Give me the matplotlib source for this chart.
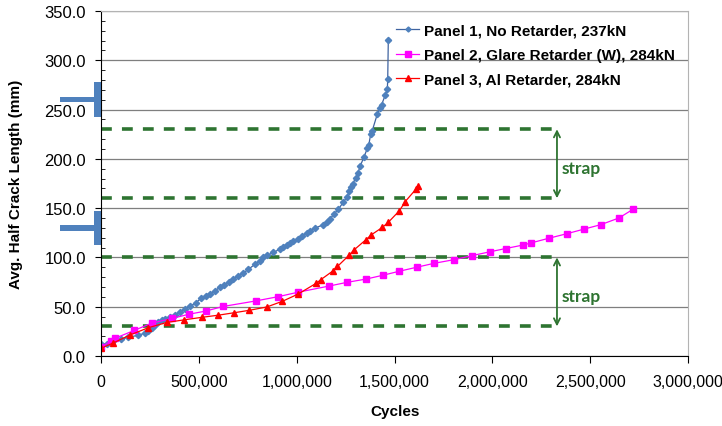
import numpy as np
import matplotlib.pyplot as plt
from matplotlib.ticker import FuncFormatter, MultipleLocator
from matplotlib.patches import Rectangle

plt.rcParams['font.family'] = ['Liberation Sans', 'DejaVu Sans']

# Panel 1, No Retarder, 237kN  (cycles in thousands, half crack length in mm)
p1_kcycles = [0, 30, 63, 100, 140, 190, 225, 242, 260, 275, 293, 310, 327, 352,
              378, 404, 429, 455, 485, 511, 535, 557, 583, 608, 630, 656, 676,
              700, 727, 753, 787, 813, 829, 847, 881, 915, 932, 949, 966, 983,
              1008, 1026, 1051, 1070, 1092, 1133, 1153, 1170, 1191, 1213, 1238,
              1256, 1269, 1276, 1286, 1302, 1313, 1325, 1344, 1361, 1368, 1378,
              1385, 1412, 1426, 1434, 1453, 1463, 1465, 1468]
p1_mm = [12, 12.5, 15.5, 17, 19, 21, 23.3, 25.7, 28.5, 31, 34, 36, 37.5, 39.2,
         41.6, 45, 47.7, 50.4, 54, 58.5, 61, 63, 66.3, 69.7, 72, 74.7, 78,
         81, 84, 88, 93, 96.7, 100, 102, 105, 108.5, 111, 112.5, 115, 116.5,
         119, 122, 125, 127, 129.5, 133, 136, 139, 144, 149, 156,
         161, 167.5, 171, 174.5, 181, 186, 193, 202, 210.7, 214, 225,
         228, 245.5, 251.6, 255, 265, 271, 281, 321]

# Panel 2, Glare Retarder (W), 284kN
p2_kcycles = [0, 50, 72, 170, 259, 363, 448, 536, 623, 790, 906, 1005, 1167,
              1257, 1354, 1443, 1525, 1613, 1702, 1804, 1896, 1990, 2068, 2158,
              2196, 2288, 2380, 2470, 2554, 2647, 2720]
p2_mm = [9, 15, 18, 26, 33.3, 38.1, 42.3, 45.6, 50.2, 55.8, 60.2, 64.6, 71,
         74.7, 78, 82, 86, 90, 94, 97.7, 101.8, 105.8, 109, 112.6,
         114.6, 119.4, 124, 128.8, 133.2, 140, 149]

# Panel 3, Al Retarder, 284kN
p3_kcycles = [0, 60, 148, 242, 336, 426, 515, 600, 678, 757, 847, 927, 1008,
              1099, 1123, 1183, 1208, 1269, 1294, 1354, 1382, 1438, 1468, 1525,
              1554, 1610, 1622]
p3_mm = [7.8, 13, 21.3, 28.7, 34, 36.7, 39.2, 41.4, 43.8, 46.3, 49.7, 55.5, 62.9,
         73.7, 77.4, 86, 90.8, 102.5, 107.8, 118, 123, 130.5, 135.6, 147.4,
         156.5, 169.4, 172.8]

# strap edges (mm) and stringer positions (mm)
strap_bounds = [(30, 100), (160, 230)]
strap_end = 2330000
stringers = [260, 130]

green = '#2e7431'
steel = '#4f81bd'

fig = plt.figure(figsize=(7.22, 4.27), dpi=100)
ax = fig.add_axes([0.140, 0.164, 0.813, 0.808])

ax.plot(np.array(p1_kcycles) * 1000, p1_mm, '-', color='#3f63a0', lw=0.9,
        marker='D', ms=3.2, mfc=steel, mec=steel, label='Panel 1, No Retarder, 237kN')
ax.plot(np.array(p2_kcycles) * 1000, p2_mm, '-', color='#ff00ff', lw=0.9,
        marker='s', ms=4.6, mfc='#ff00ff', mec='#ff00ff',
        label='Panel 2, Glare Retarder (W), 284kN')
ax.plot(np.array(p3_kcycles) * 1000, p3_mm, '-', color='#ff0000', lw=0.9,
        marker='^', ms=4.6, mfc='#ff0000', mec='#ff0000',
        label='Panel 3, Al Retarder, 284kN')

for lo, hi in strap_bounds:
    for yv in (lo, hi):
        ax.plot([0, strap_end], [yv, yv], color=green, lw=2.6,
                linestyle=(0, (3, 2.8)), zorder=1)
    ax.annotate('', xy=(strap_end, hi), xytext=(strap_end, lo),
                arrowprops=dict(arrowstyle='<->', color=green, lw=1.3,
                                shrinkA=0, shrinkB=0, mutation_scale=11))
    ax.text(strap_end + 22000, (lo + hi) / 2 - 4, 'strap', color=green,
            fontsize=12.5, fontweight='bold', family=['Lato', 'DejaVu Sans'],
            ha='left', va='center')

# stringer symbols left of the axis
for ys in stringers:
    ax.add_patch(Rectangle((-36000, ys - 17.5), 36000, 35, color=steel,
                           clip_on=False, lw=0))
    ax.add_patch(Rectangle((-210000, ys - 2.8), 176000, 5.6, color=steel,
                           clip_on=False, lw=0))

ax.set_xlim(0, 3000000)
ax.set_ylim(0, 350)
ax.xaxis.set_major_locator(MultipleLocator(500000))
ax.yaxis.set_major_locator(MultipleLocator(50))
ax.yaxis.set_minor_locator(MultipleLocator(10))
ax.xaxis.set_major_formatter(FuncFormatter(lambda v, p: '{:,.0f}'.format(v)))
ax.yaxis.set_major_formatter(FuncFormatter(lambda v, p: '{:.1f}'.format(v)))

ax.grid(axis='y', which='major', color='#7f7f7f', lw=0.9, zorder=0)
ax.set_axisbelow(True)
ax.tick_params(axis='y', which='major', direction='out', length=4, labelsize=12, pad=7)
ax.tick_params(axis='y', which='minor', direction='in', length=3)
ax.tick_params(axis='x', which='major', direction='out', length=5, labelsize=11.5, pad=8)

for s in ['top', 'right']:
    ax.spines[s].set_color('#b3b3b3')

ax.set_xlabel('Cycles', fontsize=11, fontweight='bold', labelpad=11)
ax.set_ylabel('Avg. Half Crack Length (mm)', fontsize=11, fontweight='bold', labelpad=15)

ax.legend(loc='upper left', bbox_to_anchor=(0.49, 0.985), frameon=False,
          prop={'weight': 'bold', 'size': 11}, handlelength=1.5,
          handletextpad=0.3, labelspacing=0.68, borderpad=0, markerscale=0.8)

plt.savefig('out.png', dpi=100)
plt.close()
